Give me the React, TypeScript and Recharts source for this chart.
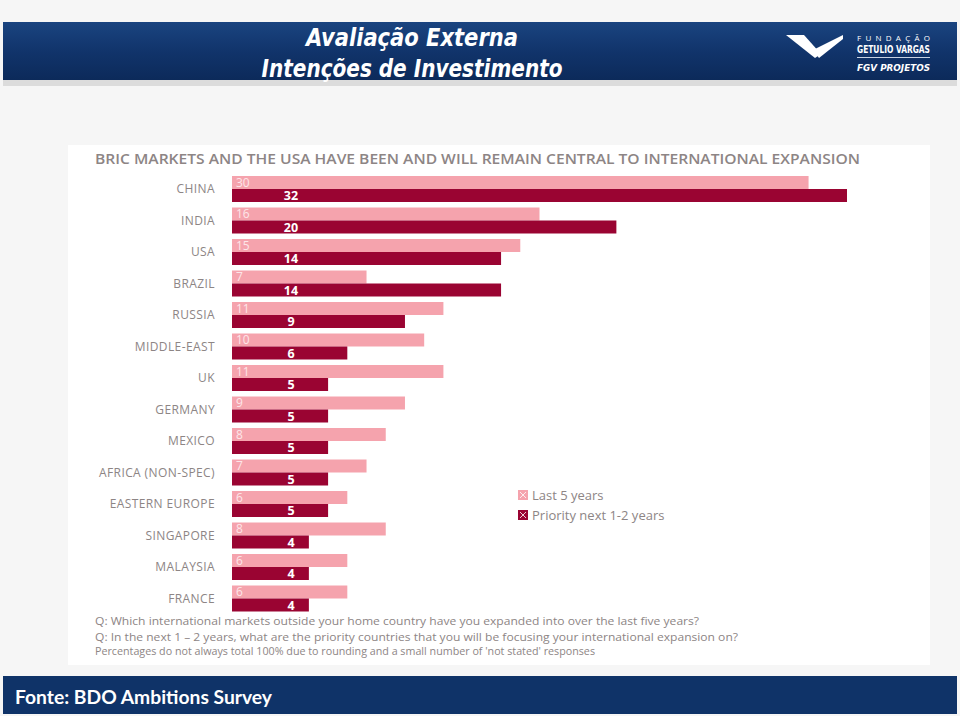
import React from "react"
import { BarChart, Bar, XAxis, YAxis, Legend, LabelList } from "recharts"

const countries = [
  "CHINA",
  "INDIA",
  "USA",
  "BRAZIL",
  "RUSSIA",
  "MIDDLE-EAST",
  "UK",
  "GERMANY",
  "MEXICO",
  "AFRICA (NON-SPEC)",
  "EASTERN EUROPE",
  "SINGAPORE",
  "MALAYSIA",
  "FRANCE",
]
const lastFiveYears = [30, 16, 15, 7, 11, 10, 11, 9, 8, 7, 6, 8, 6, 6]
const nextTwoYears = [32, 20, 14, 14, 9, 6, 5, 5, 5, 5, 5, 4, 4, 4]

const seriesNames = ["Last 5 years", "Priority next 1-2 years"]
const chartTitle = "BRIC MARKETS AND THE USA HAVE BEEN AND WILL REMAIN CENTRAL TO INTERNATIONAL EXPANSION"
const notes = [
  "Q: Which international markets outside your home country have you expanded into over the last five years?",
  "Q: In the next 1 \u2013 2 years, what are the priority countries that you will be focusing your international expansion on?",
  "Percentages do not always total 100% due to rounding and a small number of 'not stated' responses",
]

const LIGHT = "#f5a3ad"
const DARK = "#9a0432"
const GREY = "#8d8585"
const NAVY = "#11346b"
const FONT = "'Open Sans', 'Noto Sans', sans-serif"

const data = countries.map((country, i) => ({
  country,
  last: lastFiveYears[i],
  next: nextTwoYears[i],
}))

const DarkLabel = (props: any) => {
  const { x, y, height, value } = props
  return (
    <text
      x={Number(x) + 59}
      y={Number(y) + Number(height) / 2}
      dy="0.36em"
      textAnchor="middle"
      fill="#ffffff"
      fontFamily={FONT}
      fontWeight={700}
      fontSize={12.5}
    >
      {value}
    </text>
  )
}

const LegendBox = (props: any) => {
  const items = props.payload || []
  return (
    <div style={{ fontFamily: FONT, fontSize: 13, color: GREY }}>
      {items.map((item: any, i: number) => (
        <div key={i} style={{ display: "flex", alignItems: "center", height: 20 }}>
          <svg width={10} height={10} style={{ marginRight: 4 }}>
            <rect x={0.5} y={0.5} width={9} height={9} fill={item.color} />
            <path d="M2 2 L8 8 M8 2 L2 8" stroke="#fff" strokeWidth={0.8} />
            <rect x={0.5} y={0.5} width={9} height={9} fill="none" stroke={item.color} strokeWidth={1} />
          </svg>
          <span>{item.value}</span>
        </div>
      ))}
    </div>
  )
}

function Backdrop() {
  return (
    <svg width={960} height={716} style={{ position: "absolute", left: 0, top: 0 }}>
      <defs>
        <linearGradient id="navy" x1="0" y1="0" x2="0" y2="1">
          <stop offset="0" stopColor="#1a4480" />
          <stop offset="0.5" stopColor={NAVY} />
          <stop offset="1" stopColor="#0c2a5a" />
        </linearGradient>
      </defs>
      <rect x={0} y={0} width={960} height={716} fill="#f6f6f6" />
      <rect x={3} y={22} width={954} height={58} fill="url(#navy)" />
      <rect x={3} y={80} width={954} height={6} fill="#dcdcdc" />
      <text x={412} y={46} textAnchor="middle" fill="#fff" fontFamily="'DejaVu Sans Condensed', 'DejaVu Sans', sans-serif" fontStyle="italic" fontWeight={700} fontSize={24} textLength={212} lengthAdjust="spacingAndGlyphs">
        Avaliação Externa
      </text>
      <text x={412} y={77} textAnchor="middle" fill="#fff" fontFamily="'DejaVu Sans Condensed', 'DejaVu Sans', sans-serif" fontStyle="italic" fontWeight={700} fontSize={24} textLength={301} lengthAdjust="spacingAndGlyphs">
        Intenções de Investimento
      </text>
      <polygon points="786,35 804,35 821,54 815,58" fill="#fff" />
      <polygon points="813,50 843,35 843,39 819,58" fill="#fff" />
      <text x={857} y={41} fill="#fff" fontFamily={FONT} fontSize={8} textLength={73} lengthAdjust="spacing">FUNDAÇÃO</text>
      <text x={857} y={53} fill="#fff" fontFamily="'DejaVu Sans Condensed', sans-serif" fontWeight={700} fontSize={10} textLength={73} lengthAdjust="spacingAndGlyphs">GETULIO VARGAS</text>
      <rect x={857} y={57} width={73} height={1} fill="#c9d3e3" />
      <text x={857} y={71} fill="#fff" fontFamily="'DejaVu Sans', sans-serif" fontStyle="italic" fontWeight={700} fontSize={9} textLength={73} lengthAdjust="spacingAndGlyphs">FGV PROJETOS</text>

      <rect x={68} y={145} width={862} height={520} fill="#ffffff" />
      <text x={95} y={164} fill={GREY} fontFamily={FONT} fontWeight={600} fontSize={13.5} textLength={765} lengthAdjust="spacingAndGlyphs">
        {chartTitle}
      </text>
      <text x={95} y={625} fill={GREY} fontFamily={FONT} fontSize={11.5} textLength={604} lengthAdjust="spacingAndGlyphs">{notes[0]}</text>
      <text x={95} y={641} fill={GREY} fontFamily={FONT} fontSize={11.5} textLength={643} lengthAdjust="spacingAndGlyphs">{notes[1]}</text>
      <text x={95} y={655} fill={GREY} fontFamily={FONT} fontSize={10} textLength={500} lengthAdjust="spacingAndGlyphs">{notes[2]}</text>

      <rect x={3} y={676} width={954} height={38} fill="#0f3368" />
      <text x={15} y={704} fill="#fff" fontFamily="Lato, 'Open Sans', sans-serif" fontWeight={700} fontSize={19} textLength={257} lengthAdjust="spacingAndGlyphs">
        Fonte: BDO Ambitions Survey
      </text>
    </svg>
  )
}

export default function App() {
  return (
    <div style={{ position: "absolute", left: 0, top: 0, width: 960, height: 716, overflow: "hidden" }}>
      <Backdrop />
      <div style={{ position: "absolute", left: 0, top: 0 }}>
        <BarChart
          width={960}
          height={716}
          data={data}
          layout="vertical"
          margin={{ top: 173, right: 113, bottom: 102, left: 32 }}
          barCategoryGap={3}
          barGap={0}
        >
          <XAxis type="number" domain={[0, 32]} hide />
          <YAxis
            type="category"
            dataKey="country"
            width={200}
            axisLine={false}
            tickLine={false}
            tickSize={0}
            tickMargin={17}
            interval={0}
            tick={{ fill: GREY, fontSize: 12, fontFamily: FONT, letterSpacing: 0.4 }}
          />
          <Legend
            layout="horizontal"
            verticalAlign="middle"
            align="center"
            content={<LegendBox />}
            wrapperStyle={{ position: "absolute", left: 518, top: 485, width: 220 }}
          />
          <Bar dataKey="last" name={seriesNames[0]} fill={LIGHT} isAnimationActive={false}>
            <LabelList dataKey="last" position="insideLeft" offset={4} fill="#fde6e9" fontSize={12} fontFamily={FONT} />
          </Bar>
          <Bar dataKey="next" name={seriesNames[1]} fill={DARK} isAnimationActive={false}>
            <LabelList dataKey="next" content={<DarkLabel />} />
          </Bar>
        </BarChart>
      </div>
    </div>
  )
}
